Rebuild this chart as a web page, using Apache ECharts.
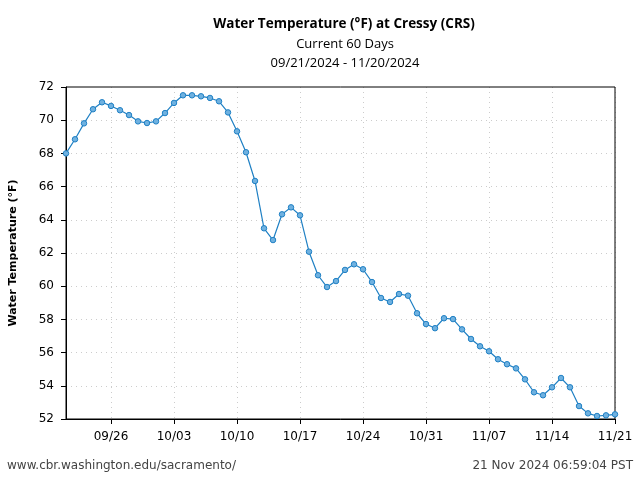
<!DOCTYPE html>
<html><head><meta charset="utf-8">
<script src="https://cdn.jsdelivr.net/npm/echarts@6/dist/echarts.min.js"></script>
<style>html,body{margin:0;padding:0;background:#fff}#c{width:640px;height:480px}</style>
</head><body><div id="c"></div>
<script>
const dates = ["09/21","09/22","09/23","09/24","09/25","09/26","09/27","09/28","09/29","09/30",
"10/01","10/02","10/03","10/04","10/05","10/06","10/07","10/08","10/09","10/10",
"10/11","10/12","10/13","10/14","10/15","10/16","10/17","10/18","10/19","10/20",
"10/21","10/22","10/23","10/24","10/25","10/26","10/27","10/28","10/29","10/30",
"10/31","11/01","11/02","11/03","11/04","11/05","11/06","11/07","11/08","11/09",
"11/10","11/11","11/12","11/13","11/14","11/15","11/16","11/17","11/18","11/19",
"11/20","11/21"];
const temps = [68.0,68.85,69.81,70.66,71.08,70.86,70.6,70.31,69.93,69.83,
69.93,70.43,71.04,71.5,71.5,71.44,71.34,71.14,70.47,69.33,
68.07,66.34,63.49,62.78,64.33,64.75,64.27,62.08,60.66,59.95,
60.31,60.98,61.32,61.02,60.25,59.29,59.05,59.53,59.43,58.37,
57.72,57.47,58.07,58.02,57.4,56.82,56.38,56.08,55.6,55.3,
55.05,54.39,53.61,53.43,53.91,54.47,53.91,52.78,52.34,52.18,
52.22,52.28];
const tickLabels = ["09/26","10/03","10/10","10/17","10/24","10/31","11/07","11/14","11/21"];
const titleText = "Water Temperature (°F) at Cressy (CRS)";
const subText1 = "Current 60 Days";
const subText2 = "09/21/2024 - 11/20/2024";
const yName = "Water Temperature (°F)";
const footLeft = "www.cbr.washington.edu/sacramento/";
const footRight = "21 Nov 2024 06:59:04 PST";

const showTick = (i) => tickLabels.indexOf(dates[i]) >= 0;
const FONT = "DejaVu Sans";
const TFONT = "Open Sans";
const chart = echarts.init(document.getElementById('c'), null, {renderer:'canvas'});
chart.setOption({
  animation:false,
  title:[
    {text:titleText, left:339, textAlign:'center', top:12, textStyle:{fontFamily:TFONT, fontWeight:'bold', fontSize:13.5, color:'#000'}},
    {text:subText1, left:340, textAlign:'center', top:33, textStyle:{fontFamily:TFONT, fontWeight:'normal', fontSize:13, color:'#000'}},
    {text:subText2, left:340, textAlign:'center', top:52, textStyle:{fontFamily:TFONT, fontWeight:'normal', fontSize:13, color:'#000'}},
    {text:footLeft, left:2, top:455, textStyle:{fontFamily:FONT, fontWeight:'normal', fontSize:12, color:'#444'}},
    {text:footRight, right:2, top:455, textStyle:{fontFamily:FONT, fontWeight:'normal', fontSize:12, color:'#444'}}
  ],
  grid:{left:65, right:25, top:87, bottom:61, show:true, z:5, backgroundColor:'transparent', borderColor:'#000', borderWidth:1, containLabel:false},
  xAxis:{
    type:'category', data:dates, boundaryGap:false,
    axisLine:{lineStyle:{color:'#000', width:1}},
    axisTick:{show:true, interval:(i)=>showTick(i), length:5, lineStyle:{color:'#000'}},
    axisLabel:{interval:(i)=>showTick(i), fontFamily:FONT, fontSize:12, color:'#000', margin:12},
    splitLine:{show:true, interval:(i)=>showTick(i), lineStyle:{color:'#ccc', type:[1,4], width:1}}
  },
  yAxis:{
    type:'value', min:52, max:72, interval:2,
    name:yName, nameLocation:'middle', nameGap:47,
    nameTextStyle:{fontFamily:FONT, fontWeight:'bold', fontSize:11, color:'#000'},
    axisLine:{show:true, lineStyle:{color:'#000', width:1}},
    axisTick:{show:true, length:5, lineStyle:{color:'#000'}},
    axisLabel:{fontFamily:FONT, fontSize:12, color:'#000', margin:12},
    splitLine:{show:true, showMaxLine:false, showMinLine:false, lineStyle:{color:'#ccc', type:[1,4], width:1}}
  },
  series:[{
    type:'line', data:temps, symbol:'circle', symbolSize:5.5, showAllSymbol:true, z:10,
    lineStyle:{color:'#1f80c4', width:1.2},
    itemStyle:{color:'#6fb1e0', borderColor:'#1f80c4', borderWidth:1}
  }]
});
</script></body></html>
